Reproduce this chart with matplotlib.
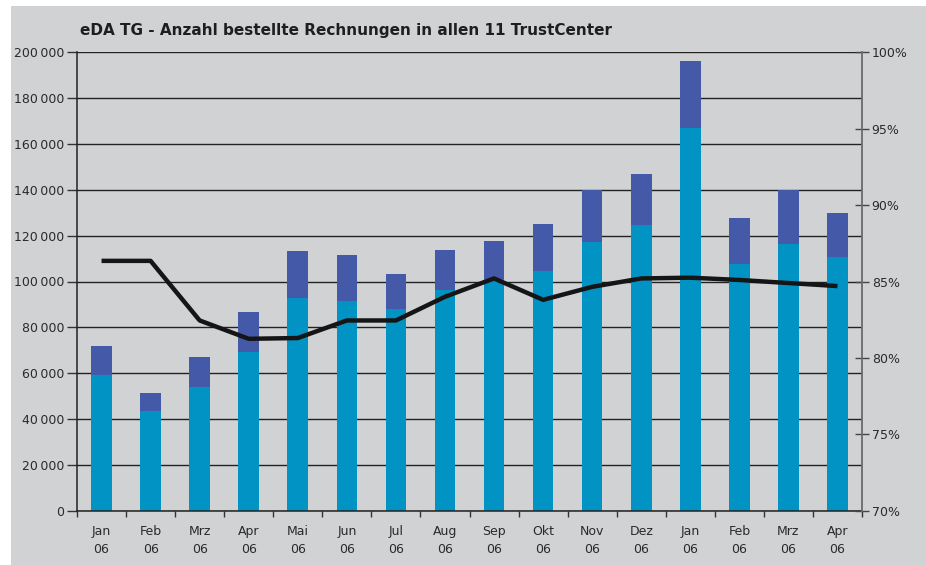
import matplotlib
matplotlib.use("Agg")
import matplotlib.pyplot as plt
import numpy as np
from matplotlib.ticker import FuncFormatter
from matplotlib.patches import Rectangle

# ---- data ----
months = ["Jan\n06", "Feb\n06", "Mrz\n06", "Apr\n06", "Mai\n06", "Jun\n06", "Jul\n06", "Aug\n06",
          "Sep\n06", "Okt\n06", "Nov\n06", "Dez\n06", "Jan\n06", "Feb\n06", "Mrz\n06", "Apr\n06"]
base_values = [59100, 43400, 53900, 69100, 92800, 91500, 88000, 96200,
               101000, 104500, 117200, 124600, 167000, 107600, 116300, 110600]
total_values = [71700, 51500, 67000, 86700, 113300, 111700, 103300, 113800,
                117600, 125000, 139900, 146900, 196300, 127700, 139900, 129800]
top_values = [t - b for t, b in zip(total_values, base_values)]
share_pct = [86.35, 86.35, 82.45, 81.25, 81.3, 82.45, 82.45, 84.0,
             85.2, 83.8, 84.65, 85.2, 85.25, 85.1, 84.9, 84.7]
title = "eDA TG - Anzahl bestellte Rechnungen in allen 11 TrustCenter"

# ---- style ----
bg = "#d1d2d4"
c_base = "#0093c3"
c_top = "#4459a8"
txt = "#2a2a2a"

fig = plt.figure(figsize=(9.26, 5.65), dpi=100)
fig.patch.set_facecolor("white")
fig.add_artist(Rectangle((11 / 926, 0), 1 - 11 / 926, 1 - 6 / 565, transform=fig.transFigure,
                         facecolor=bg, edgecolor="none", zorder=-10))

ax = fig.add_axes([77 / 926, 1 - 510.7 / 565, (862 - 77) / 926, (510.7 - 52.3) / 565])
ax.set_facecolor("none")
ax.set_axisbelow(True)

x = np.arange(len(months))
ax.bar(x, base_values, width=0.42, color=c_base, zorder=2)
ax.bar(x, top_values, bottom=base_values, width=0.42, color=c_top, zorder=2)

ax.set_xlim(-0.5, len(months) - 0.5)
ax.set_ylim(0, 200000)
ax.set_yticks(np.arange(0, 200001, 20000))
ax.yaxis.set_major_formatter(FuncFormatter(lambda v, p: f"{int(v):,}".replace(",", "\u2009")))
ax.grid(axis="y", color="#222222", linewidth=1.0)
ax.set_xticks(np.arange(0, len(months) + 1) - 0.5)
ax.set_xticklabels([])
ax.set_xticks(x, minor=True)
ax.set_xticklabels(months, minor=True, fontsize=9, color=txt, linespacing=1.55)
ax.tick_params(axis="x", which="minor", length=0, pad=10)
ax.tick_params(axis="x", which="major", length=4, width=1, color="#333333", direction="out")
ax.tick_params(axis="y", length=7, width=1, color="#333333", direction="out", labelsize=9,
               labelcolor=txt, pad=2)

for s in ["top", "right"]:
    ax.spines[s].set_visible(False)
ax.spines["left"].set_color("#222222")
ax.spines["bottom"].set_color("#222222")
ax.spines["left"].set_linewidth(1.1)
ax.spines["bottom"].set_linewidth(1.1)

ax2 = ax.twinx()
ax2.plot(x, share_pct, color="#151515", linewidth=3.2, solid_joinstyle="round",
         solid_capstyle="butt", zorder=5)
ax2.set_ylim(70, 100)
ax2.set_yticks(np.arange(70, 101, 5))
ax2.yaxis.set_major_formatter(FuncFormatter(lambda v, p: f"{int(v)}%"))
ax2.tick_params(axis="y", length=10, width=1, color="#444444", direction="inout", labelsize=9,
                labelcolor=txt, pad=2)
for s in ["top", "left", "bottom"]:
    ax2.spines[s].set_visible(False)
ax2.spines["right"].set_color("#6a6a6a")
ax2.spines["right"].set_linewidth(1.3)

fig.text(80 / 926, 1 - 30 / 565, title, fontsize=11, fontweight="bold", color="#1e1e1e",
         ha="left", va="center")

fig.savefig("out.png", dpi=100)
